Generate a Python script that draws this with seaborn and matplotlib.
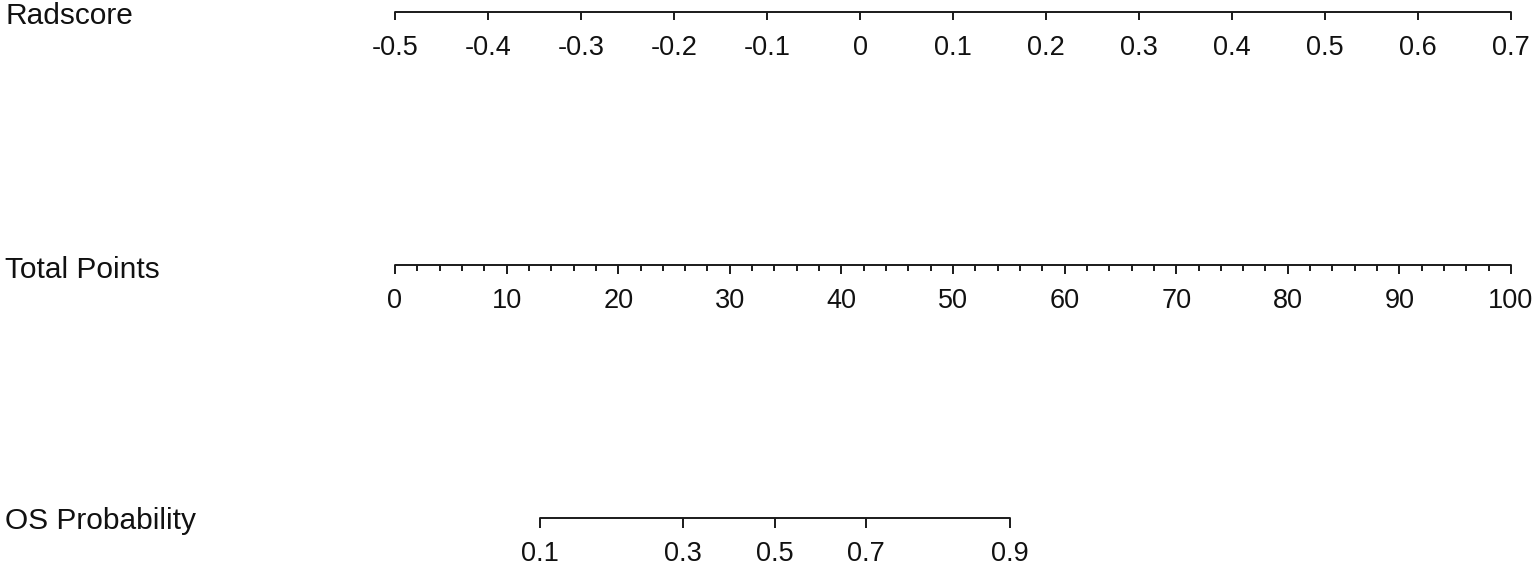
import matplotlib
matplotlib.use("Agg")
import matplotlib.pyplot as plt
import seaborn as sns
import numpy as np

# ---- data ----
radscore_ticks = [-0.5, -0.4, -0.3, -0.2, -0.1, 0, 0.1, 0.2, 0.3, 0.4, 0.5, 0.6, 0.7]
radscore_labels = ["-0.5", "-0.4", "-0.3", "-0.2", "-0.1", "0", "0.1", "0.2", "0.3", "0.4", "0.5", "0.6", "0.7"]
total_points_major = [0, 10, 20, 30, 40, 50, 60, 70, 80, 90, 100]
total_points_minor = [v for v in range(0, 101, 2) if v % 10 != 0]
os_prob_ticks = ["0.1", "0.3", "0.5", "0.7", "0.9"]
os_prob_points = [13.0, 25.8, 34.05, 42.2, 55.1]   # position on the Total Points scale
row_names = ["Radscore", "Total Points", "OS Probability"]

# map radscore to points (linear: -0.5 -> 0, 0.7 -> 100)
def rad_to_pts(r):
    return (r - radscore_ticks[0]) / (radscore_ticks[-1] - radscore_ticks[0]) * 100

sns.set_theme(style="white")
plt.rcParams['font.family'] = ['Liberation Sans', 'DejaVu Sans']

W, H = 1535, 564
fig = plt.figure(figsize=(W / 100, H / 100), dpi=100)
ax = fig.add_axes([0, 0, 1, 1])
px_per_pt = (1511 - 395) / 100.0
ax.set_xlim(-395 / px_per_pt, (W - 395) / px_per_pt)
ax.set_ylim(H, 0)
ax.axis("off")

lw = 1.4
col = "#1a1a1a"
lab_fs = 19.5
title_fs = 21.5

def draw_scale(y, pos_major, labels, pos_minor=None, major_len=9, minor_len=6):
    xs = [min(pos_major), max(pos_major)]
    sns.lineplot(x=xs, y=[y, y], ax=ax, color=col, linewidth=lw, estimator=None, sort=False)
    ax.vlines(pos_major, y, y + major_len, color=col, linewidth=lw)
    if pos_minor is not None:
        ax.vlines(pos_minor, y, y + minor_len, color=col, linewidth=lw)
    for p, l in zip(pos_major, labels):
        ax.text(p, y + 43, l, ha="center", va="baseline", fontsize=lab_fs, color="#111111")

# Radscore row
y_rad = 12
draw_scale(y_rad, [rad_to_pts(r) for r in radscore_ticks], radscore_labels, major_len=8)
# Total points row
y_tot = 265
draw_scale(y_tot, total_points_major, [str(v) for v in total_points_major],
           pos_minor=total_points_minor)
# OS probability row
y_os = 518
draw_scale(y_os, os_prob_points, os_prob_ticks, major_len=10)

x_title = -390 / px_per_pt
for name, y in zip(row_names, [24, 278, 529]):
    ax.text(x_title, y, name, ha="left", va="baseline", fontsize=title_fs, color="#111111")

fig.savefig("out.png", dpi=100)
